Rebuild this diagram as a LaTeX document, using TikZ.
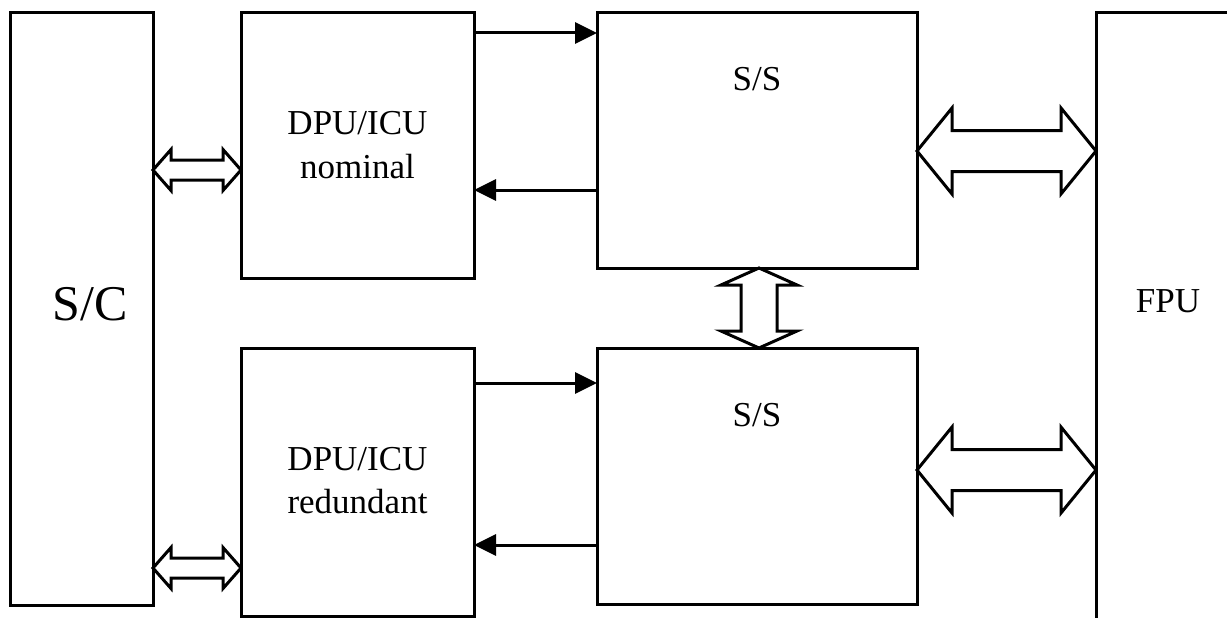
\documentclass[tikz,border=0pt]{standalone}
\usepackage{fontspec}
\setmainfont{Liberation Serif}
\usetikzlibrary{arrows.meta,calc}

% Hollow block arrow between two x positions at height #3 (px down from top):
% #1 left anchor, #2 right anchor, #4 head length, #5 head half-width, #6 shaft half-width
\newcommand\hollowH[6]{%
  \draw[hollow] let \p1=(#1), \p2=(#2) in
    (\x1,-#3pt) -- ({\x1+#4pt},{-#3pt+#5pt}) -- ({\x1+#4pt},{-#3pt+#6pt})
    -- ({\x2-#4pt},{-#3pt+#6pt}) -- ({\x2-#4pt},{-#3pt+#5pt}) -- (\x2,-#3pt)
    -- ({\x2-#4pt},{-#3pt-#5pt}) -- ({\x2-#4pt},{-#3pt-#6pt})
    -- ({\x1+#4pt},{-#3pt-#6pt}) -- ({\x1+#4pt},{-#3pt-#5pt}) -- cycle;}
% Vertical version: #1 top anchor, #2 bottom anchor, #3 x position
\newcommand\hollowV[6]{%
  \draw[hollow] let \p1=(#1), \p2=(#2) in
    (#3pt,\y1) -- ({#3pt-#5pt},{\y1-#4pt}) -- ({#3pt-#6pt},{\y1-#4pt})
    -- ({#3pt-#6pt},{\y2+#4pt}) -- ({#3pt-#5pt},{\y2+#4pt}) -- (#3pt,\y2)
    -- ({#3pt+#5pt},{\y2+#4pt}) -- ({#3pt+#6pt},{\y2+#4pt})
    -- ({#3pt+#6pt},{\y1-#4pt}) -- ({#3pt+#5pt},{\y1-#4pt}) -- cycle;}

\tikzset{
  box/.style={draw, line width=3pt, anchor=north west, inner sep=0pt, outer sep=0pt},
  txt/.style={anchor=base, inner sep=0pt, font=\fontsize{35}{40}\selectfont},
  bigtxt/.style={anchor=base, inner sep=0pt, font=\fontsize{50}{56}\selectfont},
  hollow/.style={draw, fill=white, line width=3pt, line join=miter},
  flow/.style={line width=3pt, -{Triangle[length=22pt,width=21pt]}},
}

\begin{document}
\begin{tikzpicture}[x=1pt, y=-1pt]
\useasboundingbox (0,0) rectangle (1227,618);

% blocks
\node[box, minimum width=143pt, minimum height=592pt] (sc) at (10,13) {};
\node[box, minimum width=233pt, minimum height=265pt] (dpun) at (241,13) {};
\node[box, minimum width=233pt, minimum height=268pt] (dpur) at (241,348) {};
\node[box, minimum width=320pt, minimum height=255pt] (sst) at (597,13) {};
\node[box, minimum width=320pt, minimum height=256pt] (ssb) at (597,348) {};
\node[anchor=north west, inner sep=0pt, outer sep=0pt,
      minimum width=160pt, minimum height=620pt] (fpu) at (1096,13) {};
\draw[line width=3pt] (fpu.north east) -- (fpu.north west) -- (fpu.south west);

% labels
\node[bigtxt] (lsc) at (90,320) {S/C};
\node[txt] (ln1) at (357.5,135) {DPU/ICU};
\node[txt] (ln2) at (357.5,178) {nominal};
\node[txt] (lr1) at (357.5,470) {DPU/ICU};
\node[txt] (lr2) at (357.5,513) {redundant};
\node[txt] (lst) at (757,91) {S/S};
\node[txt] (lsb) at (757,426) {S/S};
\node[txt] (lfpu) at (1168,312) {FPU};

% command / telemetry lines
\draw[flow] (dpun.east |- 0,33) -- (sst.west |- 0,33);
\draw[flow] (sst.west |- 0,190) -- (dpun.east |- 0,190);
\draw[flow] (dpur.east |- 0,383) -- (ssb.west |- 0,383);
\draw[flow] (ssb.west |- 0,545) -- (dpur.east |- 0,545);

% bidirectional interfaces
\hollowH{sc.east}{dpun.west}{170}{18}{20.5}{10}
\hollowH{sc.east}{dpur.west}{568}{18}{20.5}{10}
\hollowH{sst.east}{fpu.west}{151}{35}{43}{20.5}
\hollowH{ssb.east}{fpu.west}{470}{35}{43}{20.5}
\hollowV{sst.south}{ssb.north}{759}{17}{38}{18}
\end{tikzpicture}
\end{document}
